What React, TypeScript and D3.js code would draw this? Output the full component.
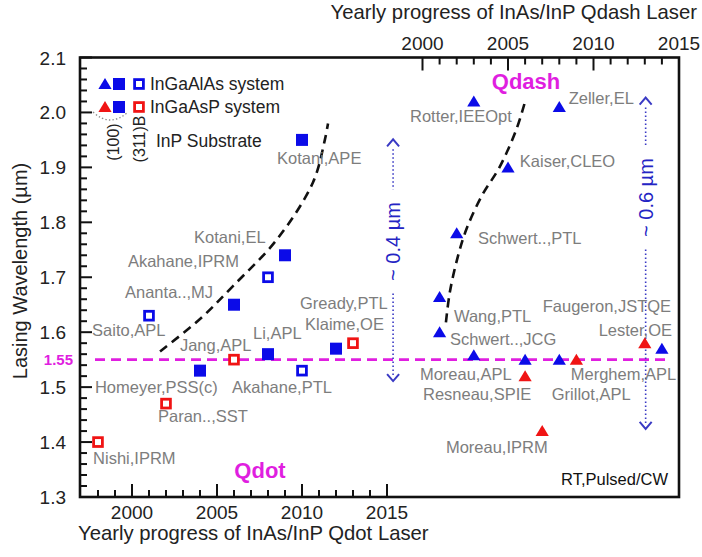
import React from "react";
import * as d3 from "d3";

const W = 702;
const H = 557;
const FONT = '"Liberation Sans", Arial, Helvetica, sans-serif';

const BLUE = "#0b0be8";
const RED = "#f01414";
const GRAY = "#7d7d7d";
const MAGENTA = "#e01ee0";
const ARROW = "#3a3ac4";

// ---- Qdot results (lower year axis): [year, wavelength µm]
const qdotSolidBlue: [number, number][] = [
  [2004, 1.53], [2006, 1.65], [2008, 1.56], [2009, 1.74], [2010, 1.95], [2012, 1.57],
];
const qdotOpenBlue: [number, number][] = [
  [2001, 1.63], [2008, 1.70], [2010, 1.53],
];
const qdotOpenRed: [number, number][] = [
  [1998, 1.40], [2002, 1.47], [2006, 1.55], [2013, 1.58],
];

// ---- Qdash results (upper year axis): [year, wavelength µm]
const qdashBlue: [number, number][] = [
  [2001, 1.60], [2001, 1.664], [2002, 1.78], [2003, 2.02], [2003, 1.558],
  [2005, 1.90], [2006, 1.55], [2008, 2.01], [2008, 1.55], [2014, 1.57],
];
const qdashRed: [number, number][] = [
  [2006, 1.52], [2007, 1.42], [2009, 1.55], [2013, 1.58],
];

// ---- reference labels: [text, year, wavelength at baseline]
const qdotLabels: [string, number, number][] = [
  ["Kotani,APE", 2008.53, 1.907],
  ["Kotani,EL", 2003.65, 1.762],
  ["Akahane,IPRM", 1999.76, 1.718],
  ["Ananta..,MJ", 1999.59, 1.662],
  ["Saito,APL", 1997.65, 1.593],
  ["Jang,APL", 2002.82, 1.565],
  ["Li,APL", 2007.12, 1.587],
  ["Gready,PTL", 2009.88, 1.642],
  ["Klaime,OE", 2010.18, 1.604],
  ["Homeyer,PSS(c)", 1997.82, 1.489],
  ["Akahane,PTL", 2005.88, 1.489],
  ["Paran..,SST", 2001.53, 1.436],
  ["Nishi,IPRM", 1997.71, 1.36],
];
const qdashLabels: [string, number, number][] = [
  ["Rotter,IEEOpt", 1999.27, 1.982],
  ["Zeller,EL", 2008.55, 2.016],
  ["Kaiser,CLEO", 2005.69, 1.9],
  ["Schwert..,PTL", 2003.24, 1.76],
  ["Wang,PTL", 2001.84, 1.618],
  ["Schwert..,JCG", 2001.61, 1.576],
  ["Faugeron,JSTQE", 2007.03, 1.636],
  ["Lester,OE", 2010.3, 1.593],
  ["Moreau,APL", 1999.85, 1.513],
  ["Resneau,SPIE", 2000.03, 1.476],
  ["Merghem,APL", 2008.67, 1.513],
  ["Grillot,APL", 2007.56, 1.476],
  ["Moreau,IPRM", 2001.37, 1.38],
];

// ---- trend guides
const qdotTrend: [number, number][] = [
  [2001.65, 1.565], [2004.0, 1.624], [2005.94, 1.684], [2008.53, 1.769],
  [2010.65, 1.873], [2011.35, 1.951], [2011.53, 1.98],
];
const qdashTrend: [number, number][] = [
  [2001.37, 1.618], [2001.6, 1.673], [2002.07, 1.738], [2002.6, 1.79],
  [2003.5, 1.85], [2004.5, 1.9], [2005.5, 1.97], [2006.0, 2.02],
];

// ---- wavelength spans: [label, upper-axis year, top µm, bottom µm, label centre µm]
const spans: [string, number, number, number, number][] = [
  ["~ 0.4 µm", 1998.28, 1.951, 1.511, 1.765],
  ["~ 0.6 µm", 2013.05, 2.027, 1.424, 1.845],
];

const wlTicks = d3.range(13, 22).map((d) => d / 10);
const wlMinor = d3.range(65, 106).map((d) => d / 50);
const qdotYearTicks = d3.range(1998, 2016);
const qdashYearTicks = d3.range(2000, 2015);
const targetWl = 1.55;

const box = { left: 80, right: 679, top: 57.5, bottom: 497 };

const y = d3.scaleLinear().domain([1.3, 2.1]).range([box.bottom, box.top]);
const xQdot = d3.scaleLinear().domain([2000, 2015]).range([132, 387]);
const xQdash = d3.scaleLinear().domain([2000, 2015]).range([422.5, 679]);

const tri = "M0,-6 L6.6,5 L-6.6,5 Z";

function SolidSquare({ x, yy, c }: { x: number; yy: number; c: string }) {
  return <rect x={x - 6} y={yy - 6} width={12} height={12} fill={c} />;
}
function OpenSquare({ x, yy, c }: { x: number; yy: number; c: string }) {
  return (
    <rect x={x - 4.4} y={yy - 4.4} width={8.8} height={8.8} fill="#fff" stroke={c} strokeWidth={2.8} />
  );
}
function Tri({ x, yy, c }: { x: number; yy: number; c: string }) {
  return <path d={tri} transform={`translate(${x},${yy})`} fill={c} />;
}

export default function App() {
  const line = d3.line().curve(d3.curveCatmullRom.alpha(0.5));
  const qdotPath = line(qdotTrend.map(([a, b]) => [xQdot(a), y(b)]) as [number, number][]) || "";
  const qdashPath = line(qdashTrend.map(([a, b]) => [xQdash(a), y(b)]) as [number, number][]) || "";

  return (
    <svg
      width={W}
      height={H}
      viewBox={`0 0 ${W} ${H}`}
      style={{ position: "absolute", left: 0, top: 0, background: "#fff" }}
      fontFamily={FONT}
    >
      <rect width={W} height={H} fill="#fff" />

      {/* target wavelength guide */}
      <line
        x1={box.left + 15}
        x2={box.right - 12}
        y1={y(targetWl)}
        y2={y(targetWl)}
        stroke={MAGENTA}
        strokeWidth={2.6}
        strokeDasharray="10 6"
      />

      {/* trend guides */}
      <path d={qdotPath} fill="none" stroke="#111" strokeWidth={2.6} strokeDasharray="9 6" />
      <path d={qdashPath} fill="none" stroke="#111" strokeWidth={2.6} strokeDasharray="9 6" />

      {/* wavelength span arrows */}
      {spans.map(([label, yr, top, bot, mid]) => {
        const ax = xQdash(yr);
        const yt = y(top);
        const yb = y(bot);
        const ym = y(mid);
        const half = 46;
        return (
          <g key={label}>
            <line x1={ax} x2={ax} y1={yt + 10} y2={ym - half - 6} stroke={ARROW} strokeWidth={1.6} strokeDasharray="1.4 2.6" />
            <line x1={ax} x2={ax} y1={ym + half + 6} y2={yb - 4} stroke={ARROW} strokeWidth={1.6} strokeDasharray="1.4 2.6" />
            <path d={`M${ax - 6},${yt + 7} L${ax},${yt} L${ax + 6},${yt + 7}`} fill="none" stroke={ARROW} strokeWidth={2} />
            <path d={`M${ax - 6},${yb - 7} L${ax},${yb} L${ax + 6},${yb - 7}`} fill="none" stroke={ARROW} strokeWidth={2} />
            <text
              transform={`translate(${ax + 7},${ym}) rotate(-90)`}
              textAnchor="middle"
              fontSize={20}
              fill="#2424c4"
            >
              {label}
            </text>
          </g>
        );
      })}

      {/* markers */}
      {qdotOpenRed.map(([a, b], i) => <OpenSquare key={"or" + i} x={xQdot(a)} yy={y(b)} c={RED} />)}
      {qdotOpenBlue.map(([a, b], i) => <OpenSquare key={"ob" + i} x={xQdot(a)} yy={y(b)} c={BLUE} />)}
      {qdotSolidBlue.map(([a, b], i) => <SolidSquare key={"sb" + i} x={xQdot(a)} yy={y(b)} c={BLUE} />)}
      {qdashBlue.map(([a, b], i) => <Tri key={"tb" + i} x={xQdash(a)} yy={y(b)} c={BLUE} />)}
      {qdashRed.map(([a, b], i) => <Tri key={"tr" + i} x={xQdash(a)} yy={y(b)} c={RED} />)}

      {/* reference labels */}
      <g fontSize={16.5} fill={GRAY}>
        {qdotLabels.map(([t, a, b]) => (
          <text key={t} x={xQdot(a)} y={y(b)}>{t}</text>
        ))}
        {qdashLabels.map(([t, a, b]) => (
          <text key={t + a} x={xQdash(a)} y={y(b)}>{t}</text>
        ))}
      </g>

      {/* legend */}
      <g>
        <Tri x={105} yy={84} c={BLUE} />
        <SolidSquare x={119} yy={84} c={BLUE} />
        <OpenSquare x={139} yy={84} c={BLUE} />
        <text x={150} y={90} fontSize={17.5} fill="#222">InGaAlAs system</text>
        <Tri x={105} yy={107} c={RED} />
        <SolidSquare x={119} yy={107} c={BLUE} />
        <OpenSquare x={139} yy={107} c={RED} />
        <text x={150} y={113} fontSize={17.5} fill="#222">InGaAsP system</text>
        <path d="M93,112 Q110,128 128,112" fill="none" stroke="#8a8a8a" strokeWidth={1.4} strokeDasharray="1.4 2.2" />
        <text transform="translate(119,142) rotate(-90)" textAnchor="middle" fontSize={16} fill="#222">(100)</text>
        <text transform="translate(145,139) rotate(-90)" textAnchor="middle" fontSize={16} fill="#222">(311)B</text>
        <text x={156} y={147} fontSize={17.5} fill="#222">InP Substrate</text>
      </g>

      {/* region titles */}
      <text x={526} y={89} textAnchor="middle" fontSize={22} fontWeight="bold" fill={MAGENTA}>Qdash</text>
      <text x={260} y={478} textAnchor="middle" fontSize={22} fontWeight="bold" fill={MAGENTA}>Qdot</text>
      <text x={668} y={485} textAnchor="end" fontSize={16.5} fill="#111">RT,Pulsed/CW</text>

      {/* frame */}
      <rect
        x={box.left}
        y={box.top}
        width={box.right - box.left}
        height={box.bottom - box.top}
        fill="none"
        stroke="#111"
        strokeWidth={2.6}
      />

      {/* left axis ticks */}
      {wlMinor.map((v) => {
        const major = Math.abs(v * 10 - Math.round(v * 10)) < 1e-6;
        return (
          <line key={"ly" + v} x1={box.left} x2={box.left + (major ? 12 : 7)} y1={y(v)} y2={y(v)} stroke="#111" strokeWidth={2} />
        );
      })}
      {wlTicks.map((v) => (
        <text key={"lt" + v} x={66} y={y(v) + 7} textAnchor="end" fontSize={19} fill="#222">
          {v.toFixed(1)}
        </text>
      ))}
      <text x={73} y={y(targetWl) + 5} textAnchor="end" fontSize={15} fontWeight="bold" fill={MAGENTA}>1.55</text>
      <text transform={`translate(27,271) rotate(-90)`} textAnchor="middle" fontSize={20} fill="#222">
        Lasing Wavelength (µm)
      </text>

      {/* lower year axis */}
      {qdotYearTicks.map((v) => (
        <line key={"bx" + v} x1={xQdot(v)} x2={xQdot(v)} y1={box.bottom} y2={box.bottom - (v % 5 === 0 ? 13 : 7)} stroke="#111" strokeWidth={2} />
      ))}
      {qdotYearTicks.filter((v) => v % 5 === 0).map((v) => (
        <text key={"bl" + v} x={xQdot(v)} y={519} textAnchor="middle" fontSize={19} fill="#222">{v}</text>
      ))}
      <text x={78} y={540} fontSize={20.3} fill="#222">Yearly progress of InAs/InP Qdot Laser</text>

      {/* upper year axis */}
      {qdashYearTicks.map((v) => (
        <line key={"tx" + v} x1={xQdash(v)} x2={xQdash(v)} y1={box.top} y2={box.top + (v % 5 === 0 ? 13 : 7)} stroke="#111" strokeWidth={2} />
      ))}
      {[2000, 2005, 2010, 2015].map((v) => (
        <text key={"tl" + v} x={xQdash(v)} y={50} textAnchor="middle" fontSize={19} fill="#222">{v}</text>
      ))}
      <text x={697} y={19} textAnchor="end" fontSize={20.3} fill="#222">Yearly progress of InAs/InP Qdash Laser</text>
    </svg>
  );
}
